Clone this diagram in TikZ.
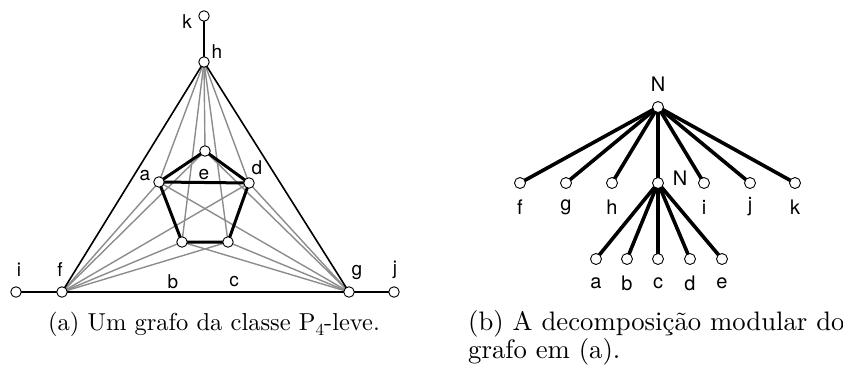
\documentclass[tikz,border=0pt]{standalone}
\usepackage{fontspec}
\setmainfont{Latin Modern Roman}
\newfontfamily\capfont[Extension=.otf]{lmroman10-regular}
\newfontfamily\lblfont{TeX Gyre Heros}
\begin{document}
\begin{tikzpicture}[x=1pt,y=-1pt,
  vtx/.style={circle,draw=black,fill=white,line width=0.9pt,minimum size=10.5pt,inner sep=0pt},
  tvtx/.style={circle,draw=black,fill=white,line width=0.9pt,minimum size=11pt,inner sep=0pt},
  lbl/.style={font=\lblfont\fontsize{19}{19}\selectfont,inner sep=0pt},
  tlbl/.style={font=\lblfont\fontsize{20}{20}\selectfont,inner sep=0pt},
  grayedge/.style={draw=black!45,line width=1.4pt},
  thinedge/.style={draw=black,line width=1.6pt},
  thickedge/.style={draw=black,line width=3pt},
  treeedge/.style={draw=black,line width=3.6pt},
  captext/.style={font=\capfont\fontsize{24.5}{24}\selectfont,inner sep=0pt,anchor=base west},
  captextb/.style={font=\capfont\fontsize{26.7}{24}\selectfont,inner sep=0pt,anchor=base west}]
\useasboundingbox (0,0) rectangle (843,367);
% left graph vertices
\coordinate (k) at (204,16);
\coordinate (h) at (204,62);
\coordinate (e) at (205,151);
\coordinate (a) at (159,182);
\coordinate (d) at (249,183);
\coordinate (b) at (182,242);
\coordinate (c) at (228,242);
\coordinate (f) at (62,292);
\coordinate (g) at (349,292);
\coordinate (i) at (16,292);
\coordinate (j) at (394,292);
% gray edges
\foreach \u in {h,f,g}{\foreach \v in {a,b,c,d,e}{\draw[grayedge] (\u) -- (\v);}}
% thin black
\draw[thinedge] (k) -- (h);
\draw[thinedge] (h) -- (f);
\draw[thinedge] (h) -- (g);
\draw[thinedge] (f) -- (g);
\draw[thinedge] (i) -- (f);
\draw[thinedge] (g) -- (j);
% thick
\draw[thickedge] (a) -- (e) -- (d);
\draw[thickedge] (a) -- (d);
\draw[thickedge] (a) -- (b) -- (c) -- (d);
\foreach \n in {k,h,e,a,d,b,c,f,g,i,j}{\node[vtx] (v\n) at (\n) {};}
\node[lbl] (lk) at (187,22) {k};
\node[lbl] (lh) at (217,52) {h};
\node[lbl] (la) at (145,176) {a};
\node[lbl] (le) at (204,175) {e};
\node[lbl] (ld) at (257,168) {d};
\node[lbl] (li) at (19,270) {i};
\node[lbl] (lf) at (60,270) {f};
\node[lbl] (lb) at (173,282) {b};
\node[lbl] (lc) at (234,282) {c};
\node[lbl] (lg) at (357,272) {g};
\node[lbl] (lj) at (395,270) {j};
% tree
\coordinate (N) at (658,107);
\coordinate (tf) at (520,183);
\coordinate (tg) at (566,183);
\coordinate (th) at (612,183);
\coordinate (N2) at (658,183);
\coordinate (ti) at (704,183);
\coordinate (tj) at (750,183);
\coordinate (tk) at (795,183);
\coordinate (ta) at (596,259);
\coordinate (tb) at (627,259);
\coordinate (tc) at (658,259);
\coordinate (td) at (690,259);
\coordinate (te) at (722,259);
\foreach \t in {tf,tg,th,N2,ti,tj,tk}{\draw[treeedge] (N) -- (\t);}
\foreach \t in {ta,tb,tc,td,te}{\draw[treeedge] (N2) -- (\t);}
\foreach \t in {N,tf,tg,th,N2,ti,tj,tk,ta,tb,tc,td,te}{\node[tvtx] (n\t) at (\t) {};}
\node[tlbl] (lN) at (658,84) {N};
\node[tlbl] (lN2) at (680,178) {N};
\node[tlbl] (ltf) at (520,207) {f};
\node[tlbl] (ltg) at (566,207) {g};
\node[tlbl] (lth) at (612,207) {h};
\node[tlbl] (lti) at (704,207) {i};
\node[tlbl] (ltj) at (750,207) {j};
\node[tlbl] (ltk) at (795,207) {k};
\node[tlbl] (lta) at (596,283) {a};
\node[tlbl] (ltb) at (627,283) {b};
\node[tlbl] (ltc) at (658,283) {c};
\node[tlbl] (ltd) at (690,283) {d};
\node[tlbl] (lte) at (722,283) {e};
% captions
\node[captext] (capa) at (48,330) {(a) Um grafo da classe P{\fontsize{17}{17}\selectfont\raisebox{-5pt}{4}}-leve.};
\node[captextb] (capb1) at (468,330) {(b) A decomposição modular do};
\node[captextb] (capb2) at (468,358) {grafo em (a).};
\end{tikzpicture}
\end{document}
